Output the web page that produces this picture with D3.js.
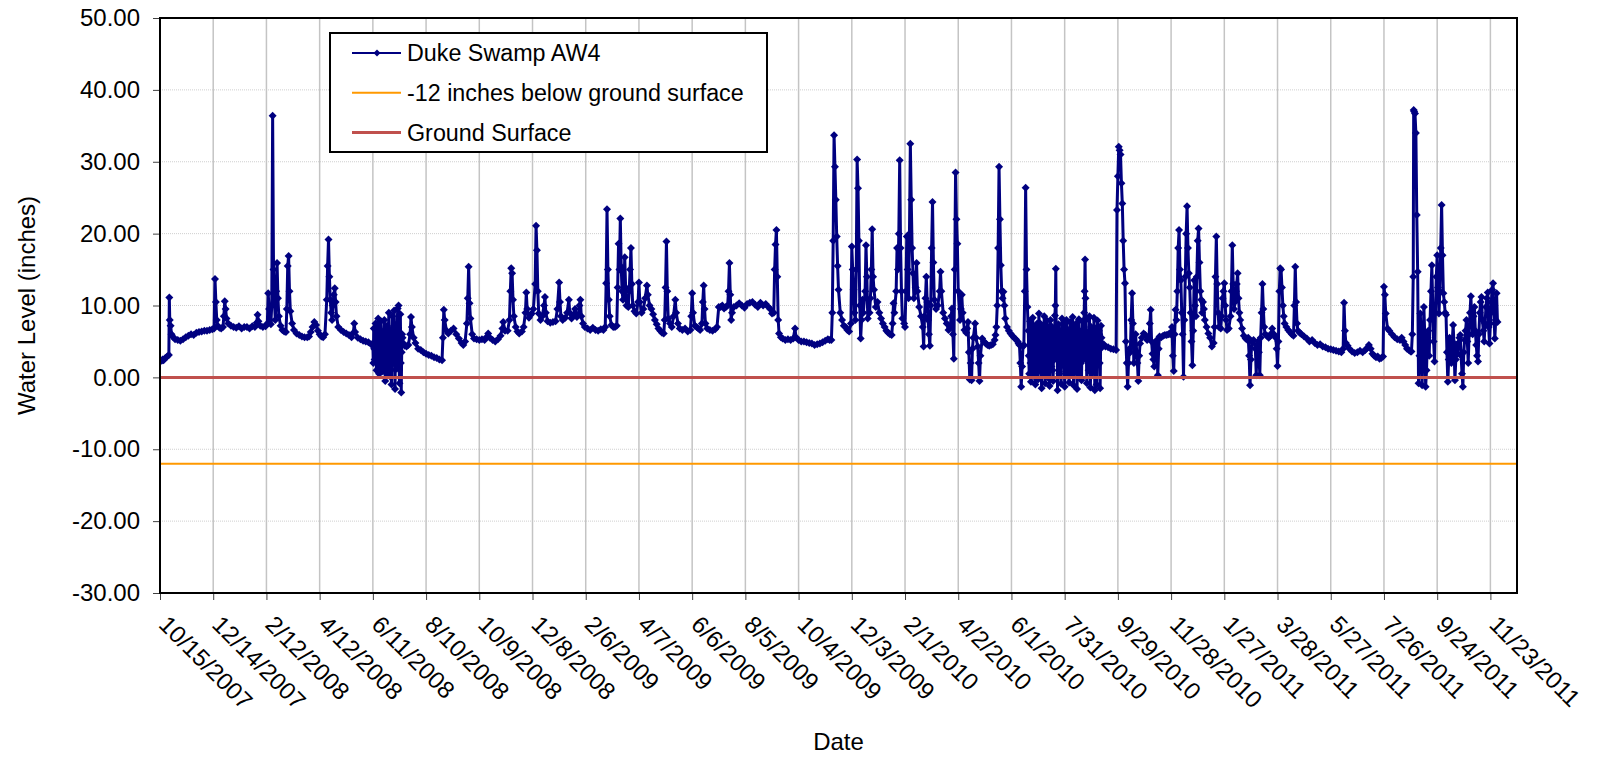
<!DOCTYPE html>
<html>
<head>
<meta charset="utf-8">
<script src="https://cdn.jsdelivr.net/npm/d3@7"></script>
<style>
body{margin:0;background:#fff;}
svg{display:block;font-family:Arial,"Liberation Sans",sans-serif;}
</style>
</head>
<body>
<svg id="chart"></svg>
<script>
var startDate = "10/15/2007";
var lastAxisDay = 1530;

var dateLabels = ["10/15/2007","12/14/2007","2/12/2008","4/12/2008","6/11/2008","8/10/2008",
    "10/9/2008","12/8/2008","2/6/2009","4/7/2009","6/6/2009","8/5/2009","10/4/2009",
    "12/3/2009","2/1/2010","4/2/2010","6/1/2010","7/31/2010","9/29/2010","11/28/2010",
    "1/27/2011","3/28/2011","5/27/2011","7/26/2011","9/24/2011","11/23/2011"];
var levelTicks = [-30,-20,-10,0,10,20,30,40,50];

var groundSurface = 0;
var belowGround = -12;

var seriesNames = ["Duke Swamp AW4","-12 inches below ground surface","Ground Surface"];
var seriesColors = ["#000080","#ff9900","#c0504d"];

//readings: [days after 10/15/2007, water level in inches]
var aw4Part1 = [[2,2.3],[3,2.5],[4,2.4],[6,2.7],[8,2.9],[10,3.1],[10.5,11.1],[11,8.0],[12,7.2],[13,6.0],[15,5.6],[17,5.3],[20,5.2],[23,5.1],[26,5.3],[29,5.6],[32,5.8],[35,6.0],[38,5.9],[41,6.2],[44,6.3],[47,6.4],[50,6.5],[53,6.5],[56,6.6],[59,6.7],[61,6.8],[62,13.7],[63,10.5],[64,8.0],[65,7.2],[67,6.9],[69,6.8],[71,7.0],[72,8.5],[73,10.6],[74,9.5],[75,8.2],[77,7.5],[80,7.2],[83,7.0],[86,6.9],[89,7.1],[92,6.8],[95,7.0],[98,7.0],[101,6.8],[104,7.1],[107,7.0],[109,7.6],[110,8.7],[111,7.8],[113,7.2],[116,7.0],[119,7.1],[121,7.5],[122,11.7],[123,9.5],[124,8.0],[125,7.4],[126,10.0],[127,36.4],[128,15.0],[129,10.5],[130,8.0],[131,12.0],[132,15.9],[133,11.0],[134,8.5],[136,7.2],[138,6.6],[140,6.4],[142,6.3],[143,9.5],[144,15.5],[145,16.9],[146,12.0],[147,9.2],[149,7.5],[151,6.6],[154,6.1],[157,5.9],[160,5.7],[163,5.6],[166,5.6],[168,5.7],[170,6.3],[172,7.0],[174,7.7],[176,7.3],[178,6.5],[180,6.0],[182,5.7],[184,5.6],[186,6.0],[188,10.8],[189,15.5],[190,19.2],[191,14.0],[192,10.8],[193,9.0],[194,8.0],[195,10.0],[196,11.5],[197,12.4],[198,10.5],[199,8.5],[201,7.0],[204,6.6],[207,6.3],[210,6.1],[213,5.9],[216,5.6],[218,6.2],[219,7.5],[220,6.3],[223,5.5],[226,5.3],[229,5.1],[232,5.0],[235,4.9],[238,4.6]];

var aw4Part2 = [[240,4.5],[240.5,2.0],[241,6.8],[241.5,4.0],[242,2.5],[242.5,5.0],[243,7.5],[243.5,3.5],[244,1.0],[244.5,6.0],[245,5.0],[245.5,2.0],[246,8.2],[246.5,4.5],[247,0.5],[247.5,6.5],[248,3.5],[248.5,1.5],[249,7.8],[249.5,4.0],[250,0.8],[250.5,5.5],[251,6.0],[251.5,1.0],[252,2.2],[252.5,6.5],[253,8.0],[253.5,3.0],[254,-0.5],[254.5,5.5],[255,4.5],[255.5,0.5],[256,7.2],[256.5,3.5],[257,1.5],[257.5,6.0],[258,9.0],[258.5,4.0],[259,0.2],[259.5,6.5],[260,5.5],[260.5,1.0],[261,-1.0],[261.5,4.5],[262,8.5],[262.5,5.0],[263,2.0],[263.5,7.0],[264,9.3],[264.5,3.0],[265,-1.6],[265.5,4.0],[266,6.5],[266.5,2.5],[267,1.2],[267.5,7.5],[268,9.6],[268.5,5.0],[269,10.0],[269.5,3.0],[270,-0.8],[270.5,5.5],[271,8.8],[271.5,2.0],[272,-2.1],[272.5,3.5],[273,6.0],[273.5,5.5],[274,4.8],
  [276,4.4],[278,4.3],[280,4.5],[282,6.0],[283,8.4],[284,7.0],[286,5.5],[288,4.8],[291,4.0],[294,3.8],[297,3.5],[300,3.3],[303,3.1],[306,3.0],[309,2.8],[312,2.7],[315,2.5],[318,2.4],[319,5.5],[320,9.4],[321,8.0],[323,6.5],[325,6.1],[328,6.5],[331,6.8],[334,6.0],[337,5.4],[340,4.8],[342,4.5],[344,5.0],[346,7.5],[347,11.0],[348,15.4],[349,10.3],[350,8.2],[352,6.0],[354,5.4],[357,5.3],[360,5.2],[363,5.3],[366,5.2],[368,5.6],[370,6.1],[372,5.5],[375,5.2],[378,5.0],[381,5.3],[384,5.8],[386,6.8],[387,7.7],[389,6.5],[392,6.5],[394,8.0],[395,12.0],[396,15.2],[397,14.5],[398,10.8],[399,8.5],[401,7.0],[403,6.4],[405,6.1],[408,6.4],[410,7.0],[412,9.0],[413,11.8],[414,9.5],[416,8.3],[418,8.7],[419,8.9],[421,9.5],[423,13.0],[424,21.1],[425,17.7],[426,12.0],[427,8.9],[429,8.0],[431,8.5],[433,10.0],[434,11.2],[435,9.0],[437,7.8],[440,7.6],[443,7.7],[446,7.8],[448,9.5],[450,13.2],[451,10.5],[452,8.5],[454,8.0],[457,8.3],[459,9.0],[461,10.8],[462,9.0],[464,8.2],[466,8.6],[468,9.5],[470,8.4],[472,8.8],[473,10.0],[474,10.8],[475,8.5],[477,7.5],[479,7.0],[482,6.8],[485,6.6],[488,6.9],[491,6.6],[494,6.5],[497,6.7],[500,6.6],[502,7.0],[503,13.1],[504,23.4],[505,15.0],[506,10.8],[507,8.5],[509,7.3],[511,7.0],[513,7.0],[515,7.2],[516,12.5],[517,18.6],[518,15.0],[519,22.1],[520,15.4],[521,12.0],[522,10.8],[523,12.5],[524,16.7],[525,12.5],[526,10.0],[528,9.8],[529,12.0],[530,15.0],[531,18.0],[532,13.0],[533,10.0],[535,9.2],[537,8.9],[539,10.5],[540,13.2],[541,10.5],[543,9.0],[545,9.5],[547,11.0],[549,12.8],[550,11.5],[552,10.0],[554,9.5],[556,8.8],[558,8.0],[560,7.4],[562,6.8],[564,6.5],[566,6.2],[568,6.1],[569,8.0],[570,12.5],[571,18.9],[572,12.0],[573,8.2],[575,7.5],[577,7.0],[579,8.5],[581,10.8],[582,9.0],[584,7.5],[586,6.8],[589,6.6],[592,6.8],[595,6.4],[598,6.6],[599,8.5],[600,11.7],[601,9.0],[603,7.2],[605,7.0],[607,6.8],[609,6.6],[611,7.5],[612,10.5],[613,12.8],[614,9.5],[615,7.5],[617,6.8],[620,6.6],[623,6.5],[626,6.7],[628,7.0],[630,9.8],[632,9.8],[634,10.0],[636,9.6],[638,9.8],[640,10.0],[641,12.0],[642,15.9],[643,11.5],[644,8.0],[645,9.0],[647,9.8],[650,10.0],[653,10.3],[656,10.0],[659,9.7],[662,10.2],[665,10.4],[668,10.5],[671,10.1],[674,9.8],[677,10.4],[680,10.0],[683,10.2],[686,9.8],[688,9.5],[690,8.9],[692,9.0],[693,15.0],[694,18.5],[695,20.5],[696,14.0],[697,8.0],[698,6.1],[700,5.6],[702,5.4],[705,5.2],[708,5.3],[711,5.2],[714,5.4],[716,6.8],[717,5.6],[720,5.2],[723,5.0],[726,5.0],[729,4.9],[732,4.8],[735,4.7],[738,4.5],[741,4.6],[744,4.7],[747,4.9],[750,5.1],[753,5.3],[755,5.2],[757,5.2],[758,9.0],[759,19.0],[760,33.7],[761,29.3],[762,24.7],[763,19.6],[764,15.5],[765,12.2],[767,9.0],[769,8.0],[771,7.2],[773,7.0],[775,6.6],[777,6.4],[779,7.5]];

var aw4Part3 = [[780,18.2],[781,15.0],[782,12.2],[783,9.0],[784,8.0],[785,15.0],[786,30.3],[787,26.3],[788,19.0],[789,10.0],[790,5.4],[791,8.0],[792,10.8],[793,9.0],[795,12.0],[796,18.4],[797,14.0],[798,8.2],[800,9.0],[801,11.0],[802,15.0],[803,20.6],[804,14.0],[805,12.2],[807,9.8],[809,10.5],[811,9.0],[813,8.2],[815,7.5],[817,7.0],[819,6.5],[821,6.2],[823,6.0],[825,5.9],[826,7.5],[827,10.3],[828,9.0],[830,12.0],[831,18.0],[832,15.0],[833,20.0],[834,30.2],[835,18.0],[836,12.0],[837,8.2],[839,7.5],[840,7.0],[841,12.0],[842,19.6],[843,15.0],[844,11.0],[845,20.0],[846,32.5],[847,24.7],[848,18.0],[849,14.5],[850,11.0],[852,12.5],[853,15.9],[854,12.0],[856,9.8],[858,8.5],[860,7.0],[861,4.3],[862,8.5],[863,11.0],[864,14.0],[865,10.5],[866,8.0],[867,6.0],[868,4.4],[869,10.0],[870,18.0],[871,24.4],[872,16.0],[873,10.8],[875,9.5],[877,10.0],[879,12.0],[880,14.7],[881,12.0],[883,9.0],[885,8.2],[887,7.5],[889,6.6],[891,7.0],[892,8.5],[893,9.6],[894,6.0],[895,2.6],[896,15.0],[897,28.5],[898,22.0],[899,18.6],[900,12.0],[902,8.0],[903,9.5],[904,11.5],[905,9.0],[907,6.6],[909,6.2],[910,6.8],[911,7.7],[912,3.5],[913,-0.3],[914,2.0],[915,-0.4],[916,4.0],[917,5.5],[919,7.5],[920,5.5],[922,4.3],[923,2.0],[924,-0.5],[925,3.0],[927,5.4],[929,5.0],[931,4.7],[933,4.5],[935,4.4],[937,4.5],[939,4.6],[941,5.2],[942,5.9],[943,7.0],[944,10.0],[945,18.0],[946,29.3],[947,22.0],[948,15.6],[949,12.0],[950,11.0],[951,11.9],[952,10.0],[953,8.2],[955,7.0],[957,6.5],[959,6.1],[961,5.8],[963,5.5],[965,5.3],[967,5.0],[968,4.7],[969,4.5],[970,2.0],[971,-1.3],[972,1.5],[973,4.3],[974,4.5],[975,12.0],[976,26.4],[977,15.0],[978,9.8]];

var aw4Part4 = [[979,6.5],[979.5,3.0],[980,0.5],[980.5,4.5],[981,7.8],[981.5,2.0],[982,-0.6],[982.5,3.5],[983,5.5],[983.5,1.0],[984,8.3],[984.5,4.0],[985,0.2],[985.5,7.0],[986,6.8],[986.5,2.5],[987,-1.0],[987.5,5.5],[988,4.0],[988.5,0.8],[989,7.5],[989.5,3.0],[990,-0.3],[990.5,6.0],[991,8.9],[991.5,4.5],[992,1.0],[992.5,7.5],[993,6.0],[993.5,2.0],[994,-1.5],[994.5,4.0],[995,7.2],[995.5,0.5],[996,2.5],[996.5,6.5],[997,8.5],[997.5,3.0],[998,-0.8],[998.5,5.5],[999,5.0],[999.5,1.5],[1000,7.9],[1000.5,4.0],[1001,0.0],[1001.5,7.0],[1002,6.3],[1002.5,2.0],[1003,-1.2],[1003.5,4.5],[1004,8.0],[1004.5,3.5],[1005,1.5],[1005.5,6.0],[1006,7.0],[1006.5,1.0],[1007,-0.5],[1007.5,5.0],[1008,5.8],[1008.5,2.5],[1009,8.6],[1009.5,10.0],[1010,15.1],[1010.5,7.0],[1011,3.0],[1011.5,5.5],[1012,-1.8],[1012.5,3.0],[1013,7.4],[1013.5,4.5],[1014,0.5],[1014.5,6.5],[1015,6.0],[1015.5,1.5],[1016,-0.9],[1016.5,4.0],[1017,8.2],[1017.5,5.0],[1018,2.0],[1018.5,7.5],[1019,7.0],[1019.5,3.0],[1020,-1.3],[1020.5,2.5],[1021,5.5],[1021.5,0.8],[1022,8.0],[1022.5,4.5],[1023,0.3],[1023.5,5.0],[1024,6.6],[1024.5,2.0],[1025,-0.7],[1025.5,4.0],[1026,7.7],[1026.5,3.5],[1027,1.2],[1027.5,6.0],[1028,4.5],[1028.5,0.5],[1029,8.4],[1029.5,5.0],[1030,-1.1],[1030.5,3.0],[1031,6.9],[1031.5,4.0],[1032,0.8],[1032.5,5.5],[1033,7.5],[1033.5,2.5],[1034,-1.6],[1034.5,3.5],[1035,5.2],[1035.5,1.0],[1036,8.1],[1036.5,4.5],[1037,0.1],[1037.5,6.0],[1038,6.4],[1038.5,2.0],[1039,-0.4],[1039.5,4.5],[1040,7.8],[1040.5,6.0],[1041,2.5],[1041.5,5.0],[1042,9.0],[1042.5,12.0],[1043,16.4],[1043.5,11.0],[1044,8.0],[1044.5,3.0],[1045,-0.8],[1045.5,4.0],[1046,6.2],[1046.5,2.5],[1047,1.0],[1047.5,6.0],[1048,8.5],[1048.5,3.5],[1049,-1.4],[1049.5,2.5],[1050,7.0],[1050.5,4.0],[1051,0.6],[1051.5,5.0],[1052,5.6],[1052.5,1.5],[1053,8.3],[1053.5,4.0],[1054,-1.8],[1054.5,3.0],[1055,6.8],[1055.5,2.0],[1056,-1.0],[1056.5,5.0],[1057,7.9],[1057.5,3.5],[1058,1.8],[1058.5,6.5],[1059,6.0],[1059.5,2.0],[1060,-1.5],[1060.5,4.0],[1061,7.2],[1061.5,5.5],[1062,4.5],
  [1064,4.6],[1066,4.3],[1069,4.2],[1072,4.0],[1075,3.9],[1078,3.8],[1079,23.3],[1080,28.0],[1081,32.1],[1082,31.6],[1083,31.0],[1084,27.0],[1085,24.2],[1086,19.0],[1087,15.0],[1088,13.1],[1089,5.0],[1090,2.0],[1091,-1.3],[1092,2.0],[1093,4.0],[1094,3.5],[1095,8.0],[1096,11.7],[1097,7.5],[1098,2.0],[1099,4.5],[1100,6.0],[1102,2.0],[1103,-0.5],[1104,3.0],[1105,4.7],[1107,5.5],[1109,6.1],[1111,5.9],[1113,5.2],[1115,5.5],[1116,7.5],[1117,9.4],[1118,5.0],[1119,3.3],[1120,2.5],[1121,1.5],[1122,4.5],[1124,5.2],[1125,0.3],[1126,4.0],[1127,5.7],[1129,5.6],[1131,5.8],[1133,5.9],[1135,5.9],[1137,6.0],[1139,6.0],[1140,6.3],[1141,7.0],[1142,3.0],[1143,0.9],[1144,6.0],[1145,9.4],[1146,8.0],[1147,12.0],[1148,18.0],[1149,20.5],[1150,15.0],[1151,13.5],[1152,9.0],[1153,6.0],[1154,0.1],[1155,8.0],[1156,14.0],[1157,20.0],[1158,23.8],[1159,18.0],[1160,14.5],[1161,12.5],[1162,9.0],[1163,5.0],[1164,1.7],[1165,6.5],[1166,13.5],[1167,10.0],[1168,8.5],[1169,14.0],[1170,19.0],[1171,20.7],[1172,16.0],[1173,12.0],[1174,10.8],[1175,9.0],[1176,10.5],[1177,9.5],[1178,8.0],[1180,7.0],[1182,6.1],[1184,5.5],[1186,4.3],[1188,4.8],[1189,7.0],[1190,14.0],[1191,19.6],[1192,13.0],[1193,9.0],[1194,7.0],[1196,6.8],[1197,8.5],[1198,11.0],[1199,12.0],[1200,13.1],[1201,10.0],[1202,8.0],[1203,6.6],[1205,6.8],[1207,8.5],[1208,12.0],[1209,18.4],[1210,13.0],[1211,9.5],[1212,10.5],[1213,12.0],[1214,13.0],[1215,14.5],[1216,11.0],[1217,9.0],[1218,8.0],[1220,6.8],[1222,5.8],[1224,5.4],[1226,5.2],[1227,5.5],[1228,3.0],[1229,-1.1],[1230,2.5],[1231,5.0],[1233,5.2],[1235,4.0],[1236,0.3],[1237,4.5],[1238,5.0],[1239,3.5],[1240,0.3],[1241,5.5],[1242,9.0],[1243,13.0],[1244,9.5],[1245,7.0],[1246,6.0],[1248,5.8],[1250,5.5],[1252,5.8],[1253,6.1],[1254,6.8],[1256,6.0],[1258,5.5],[1259,4.0],[1260,1.6],[1261,5.0],[1262,12.0],[1263,15.2],[1264,15.0],[1265,12.5],[1266,10.0],[1267,8.5],[1268,7.5],[1270,7.0],[1272,6.6],[1274,6.3],[1276,6.0],[1278,5.8],[1279,10.0],[1280,15.4],[1281,10.5],[1282,7.5],[1283,6.5],[1285,6.2]];

var aw4Part5 = [[1287,6.0],[1290,5.7],[1293,5.4],[1296,5.0],[1299,5.2],[1302,4.8],[1305,4.5],[1308,4.6],[1311,4.3],[1314,4.2],[1317,4.0],[1320,3.9],[1323,3.8],[1326,3.7],[1329,3.6],[1332,3.5],[1334,4.0],[1335,10.4],[1336,6.5],[1337,4.8],[1339,4.4],[1341,4.0],[1344,3.6],[1347,3.4],[1350,3.5],[1353,3.7],[1356,3.5],[1359,3.8],[1361,4.1],[1363,4.5],[1365,4.0],[1367,3.3],[1369,3.0],[1371,2.8],[1373,2.9],[1375,2.6],[1377,2.7],[1379,2.9],[1380,12.6],[1381,11.5],[1382,8.9],[1384,6.8],[1386,6.5],[1389,6.0],[1392,5.6],[1395,5.3],[1398,5.2],[1400,5.5],[1402,5.0],[1404,4.5],[1406,4.0],[1408,3.8],[1410,3.6],[1411,3.6],[1412,6.0],[1413,14.0],[1413.5,37.2],[1414,37.0],[1415,36.7],[1416,34.0],[1417,22.6],[1418,14.7],[1419,-0.8],[1420,3.0],[1421,8.9],[1422,5.0],[1423,-1.1],[1424,4.0],[1425,9.8],[1426,6.0],[1427,-1.3],[1428,1.0],[1429,5.5],[1430,6.5],[1431,3.0],[1432,8.0],[1433,12.0],[1434,15.6],[1435,10.0],[1436,5.0],[1437,2.2],[1438,9.0],[1439,14.0],[1440,17.0],[1441,12.5],[1442,8.9],[1443,12.0],[1444,18.0],[1445,24.0],[1446,17.0],[1447,11.7],[1448,10.5],[1449,9.0],[1450,8.7],[1451,3.5],[1452,-0.6],[1453,2.5],[1454,5.5],[1455,4.0],[1456,2.0],[1457,5.0],[1458,7.3],[1459,4.5],[1460,-0.4],[1461,2.5],[1462,4.5],[1463,3.3],[1464,4.8],[1465,5.5],[1466,5.9],[1467,3.0],[1468,0.5],[1469,-1.3],[1470,3.5],[1471,5.2],[1472,6.5],[1473,8.0],[1474,5.0],[1475,2.0],[1476,6.0],[1477,9.0],[1478,11.3],[1479,8.0],[1480,6.0],[1481,8.5],[1482,9.8],[1483,6.5],[1484,4.5],[1485,3.0],[1486,2.2],[1487,6.0],[1488,9.0],[1489,10.5],[1490,11.2],[1491,8.0],[1492,6.5],[1493,5.0],[1494,7.5],[1495,9.8],[1496,11.0],[1497,11.8],[1498,7.0],[1499,4.7],[1500,7.5],[1501,10.5],[1502,12.2],[1503,13.1],[1504,9.0],[1505,5.4],[1506,8.0],[1507,11.7],[1508,7.7]];


var parseDate = d3.utcParse("%m/%d/%Y");
var start = parseDate(startDate);

var dayToDate = function(day)
{
    return new Date(start.getTime() + day*86400000);
}

var diamond = function(s)
{
    return "M0,"+(-s)+"L"+s+",0L0,"+s+"L"+(-s)+",0Z";
}

var drawChart = function(readings)
{
    //size of screen
    var screen = {width:1600,height:758}
    //how much space on each side
    var margins = {left:160,right:83,top:18,bottom:165}

    var graph =
        {
            width:screen.width-margins.left-margins.right,
            height:screen.height-margins.top-margins.bottom
        }

    var svg = d3.select("#chart")
    .attr("width",screen.width)
    .attr("height",screen.height)

    var xScale = d3.scaleUtc()
        .domain([start,dayToDate(lastAxisDay)])
        .range([0,graph.width]);

    var yScale = d3.scaleLinear()
        .domain([levelTicks[0],levelTicks[levelTicks.length-1]])
        .range([graph.height,0]);

    var tickDates = dateLabels.map(parseDate);

    var target = svg.append("g")
    .attr("transform","translate("+margins.left+","+margins.top+")");

    svg.append("defs").append("clipPath")
    .attr("id","plotClip")
    .append("rect")
    .attr("width",graph.width)
    .attr("height",graph.height)

    //horizontal grid, dotted
    target.append("g")
    .selectAll("line")
    .data(levelTicks)
    .enter()
    .append("line")
    .attr("x1",0)
    .attr("x2",graph.width)
    .attr("y1",function(v){return yScale(v);})
    .attr("y2",function(v){return yScale(v);})
    .attr("stroke","#cfcfcf")
    .attr("stroke-width",1)
    .attr("stroke-dasharray","1,1")

    //vertical grid
    target.append("g")
    .selectAll("line")
    .data(tickDates)
    .enter()
    .append("line")
    .attr("x1",function(d){return xScale(d);})
    .attr("x2",function(d){return xScale(d);})
    .attr("y1",0)
    .attr("y2",graph.height)
    .attr("stroke","#c4c4c4")
    .attr("stroke-width",1.5)

    var line = d3.line()
        .x(function(r){return xScale(dayToDate(r[0]));})
        .y(function(r){return yScale(r[1]);});

    var plot = target.append("g")
    .attr("clip-path","url(#plotClip)")

    plot.append("path")
    .datum(readings)
    .attr("d",line)
    .attr("fill","none")
    .attr("stroke",seriesColors[0])
    .attr("stroke-width",3)
    .attr("stroke-linejoin","round")

    plot.append("g")
    .selectAll("path")
    .data(readings)
    .enter()
    .append("path")
    .attr("transform",function(r)
    {
        return "translate("+xScale(dayToDate(r[0]))+","+yScale(r[1])+")";
    })
    .attr("d",diamond(4))
    .attr("fill",seriesColors[0])

    //reference lines
    plot.append("line")
    .attr("x1",0)
    .attr("x2",graph.width)
    .attr("y1",yScale(belowGround))
    .attr("y2",yScale(belowGround))
    .attr("stroke",seriesColors[1])
    .attr("stroke-width",2)

    plot.append("line")
    .attr("x1",0)
    .attr("x2",graph.width)
    .attr("y1",yScale(groundSurface))
    .attr("y2",yScale(groundSurface))
    .attr("stroke",seriesColors[2])
    .attr("stroke-width",3)

    //axes
    var yAxis = d3.axisLeft(yScale)
        .tickValues(levelTicks)
        .tickSize(7)
        .tickPadding(13)
        .tickFormat(function(v){return v.toFixed(2);});

    var yG = target.append("g").call(yAxis);
    yG.select(".domain").remove();
    yG.selectAll("text")
    .attr("font-size",24)
    .attr("font-family","Arial, 'Liberation Sans', sans-serif")
    .attr("fill","#000")
    yG.selectAll("line").attr("stroke","#404040")

    var xAxis = d3.axisBottom(xScale)
        .tickValues(tickDates)
        .tickSize(7)
        .tickFormat(function(d,i){return dateLabels[i];});

    var xG = target.append("g")
    .attr("transform","translate(0,"+graph.height+")")
    .call(xAxis);
    xG.select(".domain").remove();
    xG.selectAll("line").attr("stroke","#404040")
    xG.selectAll("text")
    .attr("font-size",24)
    .attr("font-family","Arial, 'Liberation Sans', sans-serif")
    .attr("fill","#000")
    .attr("x",0)
    .attr("y",0)
    .attr("dy",null)
    .attr("text-anchor","start")
    .attr("transform","translate(-3,33) rotate(45)")

    //frame
    target.append("rect")
    .attr("width",graph.width)
    .attr("height",graph.height)
    .attr("fill","none")
    .attr("stroke","#000")
    .attr("stroke-width",2)

    //titles
    svg.append("text")
    .attr("x",margins.left+graph.width/2)
    .attr("y",750)
    .attr("text-anchor","middle")
    .attr("font-size",24)
    .text("Date")

    svg.append("text")
    .attr("transform","translate(35,"+(margins.top+graph.height/2)+") rotate(-90)")
    .attr("text-anchor","middle")
    .attr("font-size",24)
    .text("Water Level (inches)")

    drawLegend(svg);
}

var drawLegend = function(svg)
{
    var legend = svg.append("g")
    .attr("transform","translate(330,33)");

    legend.append("rect")
    .attr("width",437)
    .attr("height",119)
    .attr("fill","#fff")
    .attr("stroke","#000")
    .attr("stroke-width",2)

    var rows = legend.selectAll(".row")
    .data(seriesNames)
    .enter()
    .append("g")
    .attr("transform",function(n,i){return "translate(0,"+(20+i*39.7)+")";});

    rows.append("line")
    .attr("x1",22)
    .attr("x2",71)
    .attr("stroke",function(n,i){return seriesColors[i];})
    .attr("stroke-width",function(n,i){return i==2?3:2;})

    rows.filter(function(n,i){return i==0;})
    .append("path")
    .attr("transform","translate(47,0)")
    .attr("d",diamond(3.5))
    .attr("fill",seriesColors[0])

    rows.append("text")
    .attr("x",77)
    .attr("dy","0.35em")
    .attr("font-size",23.3)
    .text(function(n){return n;})
}

drawChart(aw4Part1.concat(aw4Part2,aw4Part3,aw4Part4,aw4Part5));
</script>
</body>
</html>
